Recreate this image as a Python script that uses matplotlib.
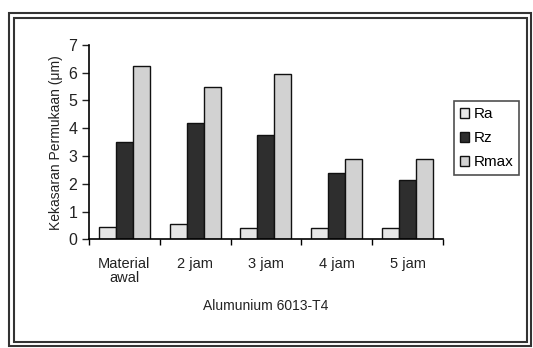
import numpy as np
import matplotlib.pyplot as plt
from matplotlib.patches import Rectangle

categories = ["Material\nawal", "2 jam", "3 jam", "4 jam", "5 jam"]
ra = [0.45, 0.55, 0.4, 0.4, 0.4]
rz = [3.5, 4.2, 3.75, 2.4, 2.15]
rmax = [6.25, 5.5, 5.95, 2.9, 2.9]

plt.rcParams["font.family"] = ["Liberation Sans", "DejaVu Sans"]

fig = plt.figure(figsize=(5.33, 3.48), dpi=100)
ax = fig.add_axes([0.167, 0.312, 0.664, 0.559])

x = np.arange(len(categories))
w = 0.24
ax.bar(x - w, ra, w, color="#e6e6e6", edgecolor="#111111", linewidth=1.0, label="Ra")
ax.bar(x, rz, w, color="#2e2e2e", edgecolor="#111111", linewidth=1.0, label="Rz")
ax.bar(x + w, rmax, w, color="#d2d2d2", edgecolor="#111111", linewidth=1.0, label="Rmax")

ax.set_xlim(-0.5, len(categories) - 0.5)
ax.set_ylim(0, 7)
ax.set_yticks(range(0, 8))
ax.tick_params(axis="y", labelsize=11.5, length=5, width=1, direction="out", colors="#222222")
ax.set_xticks(x)
ax.set_xticklabels(categories, fontsize=10.5, linespacing=1.0)
ax.tick_params(axis="x", length=0, pad=13, colors="#222222")
ax.set_xticks(np.arange(len(categories) + 1) - 0.5, minor=True)
ax.tick_params(axis="x", which="minor", length=4, width=1, direction="out")

for side in ["top", "right"]:
    ax.spines[side].set_visible(False)
ax.spines["left"].set_linewidth(1.2)
ax.spines["bottom"].set_linewidth(1.2)

ax.set_ylabel("Kekasaran Permukaan (μm)", fontsize=10, labelpad=4, color="#222222")
ax.set_xlabel("Alumunium 6013-T4", fontsize=10, labelpad=10, color="#222222")

leg = ax.legend(loc="upper left", bbox_to_anchor=(1.03, 0.71), frameon=True,
                fancybox=False, edgecolor="#222222", fontsize=11,
                handlelength=0.6, handleheight=0.6, handletextpad=0.3,
                borderpad=0.4, labelspacing=0.65, borderaxespad=0)
leg.get_frame().set_linewidth(1.2)

# double border around the whole chart
W, H = 533, 348
for (x0, y0, x1, y1) in [(9, 13, 531, 346), (14, 18, 527, 342)]:
    fig.patches.append(Rectangle((x0 / W, 1 - y1 / H), (x1 - x0) / W, (y1 - y0) / H,
                                 transform=fig.transFigure, fill=False,
                                 edgecolor="#333333", linewidth=1.5))

fig.savefig("out.png", dpi=100)
